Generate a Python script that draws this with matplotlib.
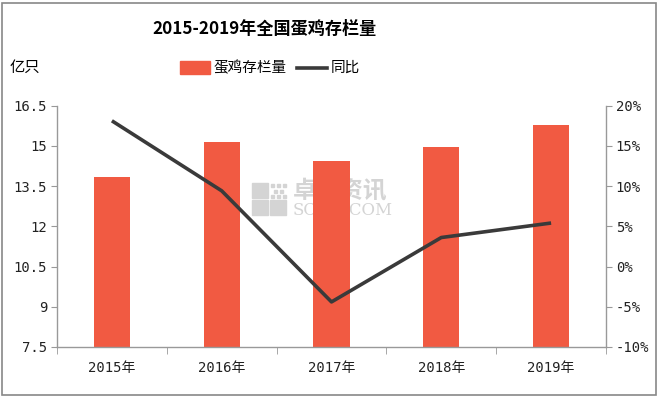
import matplotlib
matplotlib.use("Agg")
import matplotlib.pyplot as plt
from matplotlib.patches import Rectangle
from matplotlib.lines import Line2D
from matplotlib.ticker import FuncFormatter

plt.rcParams['font.family'] = ['Noto Sans CJK SC', 'DejaVu Sans']

categories = ['2015年', '2016年', '2017年', '2018年', '2019年']
stock = [13.84, 15.13, 14.45, 14.96, 15.79]
yoy = [18.1, 9.4, -4.4, 3.6, 5.4]
left_ticks = [7.5, 9, 10.5, 12, 13.5, 15, 16.5]
right_ticks = [-10, -5, 0, 5, 10, 15, 20]

bar_color = '#F15A42'
line_color = '#3A3A3A'
axis_color = '#999999'
wm_color = '#D4D4D4'
tick_family = ['DejaVu Sans Mono', 'Noto Sans CJK SC']

fig = plt.figure(figsize=(6.6, 3.97), dpi=100)
W, H = 660, 397


def fx(px):
    return px / W


def fy(py):
    return 1 - py / H


ax = fig.add_axes([fx(57), fy(347), (606 - 57) / W, (347 - 105.5) / H])
ax2 = ax.twinx()

x = list(range(len(categories)))
ax.bar(x, stock, width=0.33, color=bar_color, zorder=2)
ax.set_ylim(7.5, 16.5)
ax.set_xlim(-0.5, 4.5)
ax.set_yticks(left_ticks)
ax.yaxis.set_major_formatter(FuncFormatter(lambda v, p: ('%g' % v)))
ax.set_xticks(x)
ax.set_xticklabels(categories)
ax.set_xticks([i + 0.5 for i in range(-1, len(categories))], minor=True)
ax.tick_params(axis='x', which='major', length=0, pad=10, labelsize=10)
ax.tick_params(axis='x', which='minor', length=5, color=axis_color, direction='out')
ax.tick_params(axis='y', length=4, color=axis_color, labelsize=10, pad=3)

ax2.plot(x, yoy, color=line_color, linewidth=2.6, zorder=5, solid_capstyle='butt')
ax2.set_ylim(-10, 20)
ax2.set_yticks(right_ticks)
ax2.yaxis.set_major_formatter(FuncFormatter(lambda v, p: '%d%%' % v))
ax2.tick_params(axis='y', length=4, color=axis_color, labelsize=10, pad=3)

for lbl in ax.get_xticklabels() + ax.get_yticklabels() + ax2.get_yticklabels():
    lbl.set_family(tick_family)
    lbl.set_color('#222222')

for a in (ax, ax2):
    a.spines['top'].set_visible(False)
    for s in ('left', 'right', 'bottom'):
        a.spines[s].set_color(axis_color)
        a.spines[s].set_linewidth(1.0)
ax.spines['right'].set_visible(False)
ax2.spines['left'].set_visible(False)
ax2.spines['bottom'].set_visible(False)

# watermark (behind bars)
for (px, py) in [(252, 183), (252, 200), (270, 200)]:
    fig.patches.append(Rectangle((fx(px), fy(py + 15)), 16 / W, 15 / H, transform=fig.transFigure,
                                 color=wm_color, zorder=0.5))
for (px, py) in [(271, 184), (277, 184), (283, 184), (274, 190), (280, 190), (271, 195), (277, 195), (283, 195)]:
    fig.patches.append(Rectangle((fx(px), fy(py + 3)), 3 / W, 3 / H, transform=fig.transFigure,
                                 color=wm_color, zorder=0.5))
ax.text((293 - 57) / 549, (347 - 191) / 241.5, '卓创资讯', transform=ax.transAxes, fontsize=17,
        color=wm_color, ha='left', va='center', zorder=1, fontweight='bold')
ax.text((293 - 57) / 549, (347 - 210) / 241.5, 'SCI99.COM', transform=ax.transAxes, fontsize=12,
        color=wm_color, ha='left', va='center', zorder=1, family='DejaVu Serif')

fig.text(fx(265), fy(29), '2015-2019年全国蛋鸡存栏量', ha='center', va='center', fontsize=12.3, fontweight='bold')
fig.text(fx(10), fy(67), '亿只', ha='left', va='center', fontsize=11)

# legend
fig.patches.append(Rectangle((fx(180), fy(74)), 30 / W, 13 / H, transform=fig.transFigure, color=bar_color))
fig.text(fx(213), fy(68), '蛋鸡存栏量', ha='left', va='center', fontsize=10.5)
fig.lines.append(Line2D([fx(297), fx(327)], [fy(68), fy(68)], transform=fig.transFigure,
                        color=line_color, linewidth=2.6))
fig.text(fx(331), fy(68), '同比', ha='left', va='center', fontsize=10.5)

# border
fig.patches.append(Rectangle((1.5 / W, 2.5 / H), (W - 6) / W, (H - 5) / H, transform=fig.transFigure,
                             fill=False, edgecolor='#888888', linewidth=1.2))

fig.savefig('out.png', dpi=100)
